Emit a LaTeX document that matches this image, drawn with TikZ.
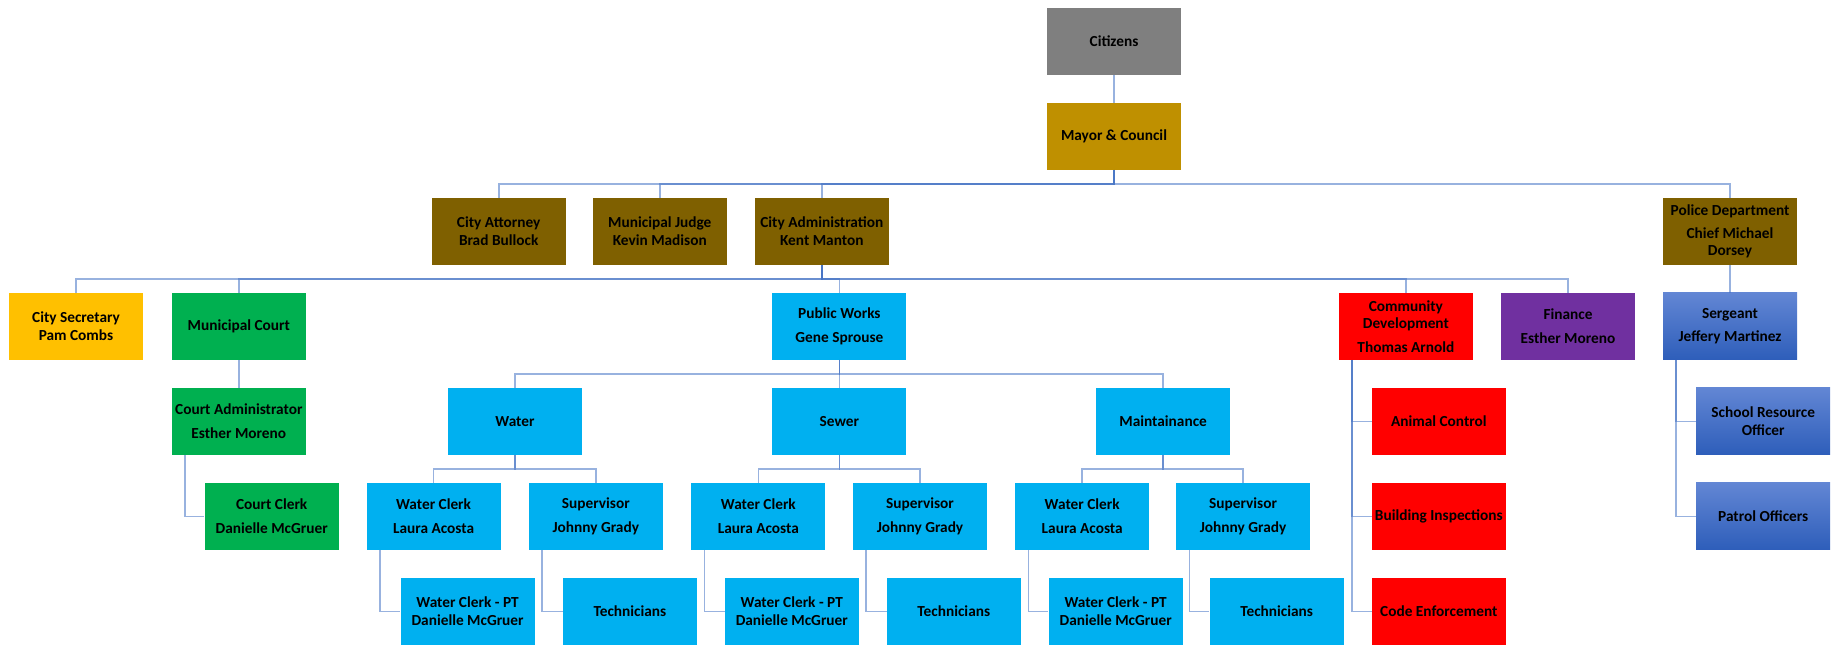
\documentclass[tikz,border=0pt]{standalone}
\usepackage{fontspec}
\setmainfont{Carlito}
\definecolor{cgray}{HTML}{7F7F7F}
\definecolor{cgold}{HTML}{BF9000}
\definecolor{cbrown}{HTML}{7F6000}
\definecolor{cyellow}{HTML}{FFC000}
\definecolor{cgreen}{HTML}{00B050}
\definecolor{ccyan}{HTML}{00B0F0}
\definecolor{cred}{HTML}{FF0000}
\definecolor{cpurple}{HTML}{7030A0}
\definecolor{cbtop}{RGB}{98,134,212}
\definecolor{cbbot}{RGB}{46,94,186}
\definecolor{cline}{HTML}{4472C4}
\begin{document}
\begin{tikzpicture}[x=0.75pt,y=-0.75pt,
  box/.style={rectangle,inner sep=0pt,minimum width=100.5pt,minimum height=50pt,
    align=center,font=\fontsize{11.5}{13}\selectfont\bfseries,text=black},
  conn/.style={draw=cline,line width=1.2pt,draw opacity=0.55},
  pgap/.style={}]
\useasboundingbox (0,0) rectangle (1843,644);
% row 0-2
\node[box,fill=cgray] (citizens) at (1114,41.3) {Citizens};
\node[box,fill=cgold] (mayor) at (1114,136.3) {Mayor \& Council};
\node[box,fill=cbrown] (attorney) at (498.7,231.3) {City Attorney\\Brad Bullock};
\node[box,fill=cbrown] (judge) at (659.8,231.3) {Municipal Judge\\Kevin Madison};
\node[box,fill=cbrown] (cityadmin) at (821.8,231.3) {City Administration\\Kent Manton};
\node[box,fill=cbrown] (police) at (1730,231.3) {Police Department\\[4.6pt]Chief Michael\\Dorsey};
% row 3
\node[box,fill=cyellow] (citysec) at (76,326.3) {City Secretary\\Pam Combs};
\node[box,fill=cgreen] (court) at (238.8,326.3) {Municipal Court};
\node[box,fill=ccyan] (pw) at (839.4,326.3) {Public Works\\[4.6pt]Gene Sprouse};
\node[box,fill=cred] (comdev) at (1405.9,326.3) {Community\\Development\\[4.6pt]Thomas Arnold};
\node[box,fill=cpurple] (finance) at (1568,326.3) {Finance\\[4.6pt]Esther Moreno};
\node[box,top color=cbtop,bottom color=cbbot] (sergeant) at (1730,326.3) {Sergeant\\[4.6pt]Jeffery Martinez};
% row 4
\node[box,fill=cgreen] (courtadmin) at (238.8,421.3) {Court Administrator\\[4.6pt]Esther Moreno};
\node[box,fill=ccyan] (water) at (515,421.3) {Water};
\node[box,fill=ccyan] (sewer) at (839.4,421.3) {Sewer};
\node[box,fill=ccyan] (maint) at (1163.1,421.3) {Maintainance};
\node[box,fill=cred] (animal) at (1438.8,421.3) {Animal Control};
\node[box,top color=cbtop,bottom color=cbbot] (sro) at (1763.2,421.3) {School Resource\\Officer};
% row 5
\node[box,fill=cgreen] (courtclerk) at (271.7,516.3) {Court Clerk\\[4.6pt]Danielle McGruer};
\node[box,fill=ccyan] (wca) at (433.6,516.3) {Water Clerk\\[4.6pt]Laura Acosta};
\node[box,fill=ccyan] (supa) at (595.8,516.3) {Supervisor\\[4.6pt]Johnny Grady};
\node[box,fill=ccyan] (wcb) at (758.4,516.3) {Water Clerk\\[4.6pt]Laura Acosta};
\node[box,fill=ccyan] (supb) at (920,516.3) {Supervisor\\[4.6pt]Johnny Grady};
\node[box,fill=ccyan] (wcc) at (1082.2,516.3) {Water Clerk\\[4.6pt]Laura Acosta};
\node[box,fill=ccyan] (supc) at (1243.1,516.3) {Supervisor\\[4.6pt]Johnny Grady};
\node[box,fill=cred] (building) at (1438.8,516.3) {Building Inspections};
\node[box,top color=cbtop,bottom color=cbbot] (patrol) at (1763.2,516.3) {Patrol Officers};
% row 6
\node[box,fill=ccyan] (pta) at (467.6,611.3) {Water Clerk - PT\\Danielle McGruer};
\node[box,fill=ccyan] (techa) at (629.9,611.3) {Technicians};
\node[box,fill=ccyan] (ptb) at (791.8,611.3) {Water Clerk - PT\\Danielle McGruer};
\node[box,fill=ccyan] (techb) at (953.8,611.3) {Technicians};
\node[box,fill=ccyan] (ptc) at (1115.7,611.3) {Water Clerk - PT\\Danielle McGruer};
\node[box,fill=ccyan] (techc) at (1276.7,611.3) {Technicians};
\node[box,fill=cred] (code) at (1438.8,611.3) {Code Enforcement};
% connectors
\draw[conn] (citizens.south) -- (mayor.south |- mayor.north);
\foreach \c in {attorney,judge,cityadmin,police}
  \draw[conn] (mayor.south) -- ++(0,14) -| (\c.north);
\foreach \c in {citysec,court,pw,comdev,finance}
  \draw[conn] (cityadmin.south) -- ++(0,14) -| (\c.north);
\draw[conn] (police.south) -- (sergeant.north);
\draw[conn] (court.south) -- (courtadmin.north);
\draw[conn] ([xshift=10.1pt]courtadmin.south west) |- (courtclerk.west);
\foreach \c in {water,sewer,maint}
  \draw[conn] (pw.south) -- ++(0,14) -| (\c.north);
\foreach \p/\a/\b in {water/wca/supa,sewer/wcb/supb,maint/wcc/supc}{
  \draw[conn] (\p.south) -- ++(0,14) -| (\a.north);
  \draw[conn] (\p.south) -- ++(0,14) -| (\b.north);
}
\foreach \p/\c in {wca/pta,supa/techa,wcb/ptb,supb/techb,wcc/ptc,supc/techc}
  \draw[conn] ([xshift=10.1pt]\p.south west) |- (\c.west);
\foreach \c in {animal,building,code}
  \draw[conn] ([xshift=10.1pt]comdev.south west) |- (\c.west);
\foreach \c in {sro,patrol}
  \draw[conn] ([xshift=10.1pt]sergeant.south west) |- (\c.west);
\end{tikzpicture}
\end{document}
